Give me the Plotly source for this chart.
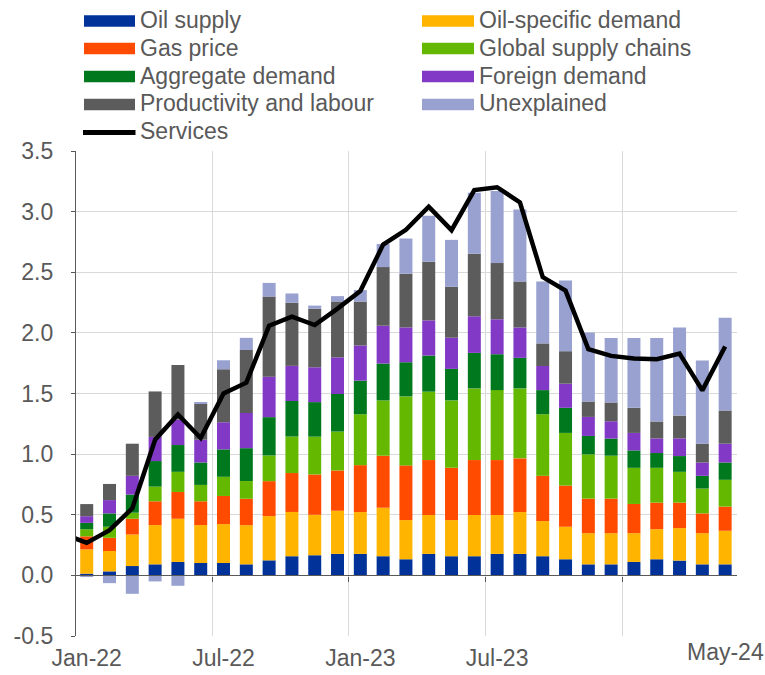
import plotly.graph_objects as go

months = ["Jan-22", "Feb-22", "Mar-22", "Apr-22", "May-22", "Jun-22",
          "Jul-22", "Aug-22", "Sep-22", "Oct-22", "Nov-22", "Dec-22",
          "Jan-23", "Feb-23", "Mar-23", "Apr-23", "May-23", "Jun-23",
          "Jul-23", "Aug-23", "Sep-23", "Oct-23", "Nov-23", "Dec-23",
          "Jan-24", "Feb-24", "Mar-24", "Apr-24", "May-24"]

oil_supply = [0.014, 0.033, 0.077, 0.091, 0.111, 0.102, 0.102, 0.091, 0.124, 0.158,
              0.166, 0.177, 0.177, 0.158, 0.133, 0.177, 0.158, 0.158, 0.177, 0.177,
              0.158, 0.133, 0.091, 0.091, 0.111, 0.133, 0.122, 0.091, 0.091]
oil_specific_demand = [0.200, 0.168, 0.260, 0.324, 0.356, 0.313, 0.321, 0.323, 0.365, 0.365,
                       0.334, 0.356, 0.345, 0.400, 0.323, 0.321, 0.298, 0.340, 0.321, 0.345,
                       0.290, 0.268, 0.257, 0.257, 0.237, 0.248, 0.268, 0.257, 0.277]
gas_price = [0.108, 0.109, 0.130, 0.196, 0.221, 0.196, 0.232, 0.218, 0.288, 0.321,
             0.332, 0.332, 0.387, 0.429, 0.451, 0.453, 0.431, 0.453, 0.453, 0.443,
             0.373, 0.340, 0.285, 0.285, 0.241, 0.219, 0.210, 0.163, 0.199]
global_supply_chains = [0.058, 0.091, 0.050, 0.121, 0.166, 0.135, 0.158, 0.146, 0.212, 0.301,
                        0.312, 0.321, 0.420, 0.456, 0.569, 0.564, 0.556, 0.591, 0.577, 0.577,
                        0.508, 0.434, 0.365, 0.354, 0.298, 0.287, 0.254, 0.205, 0.221]
aggregate_demand = [0.053, 0.110, 0.149, 0.211, 0.221, 0.185, 0.226, 0.271, 0.316, 0.293,
                    0.285, 0.310, 0.277, 0.304, 0.282, 0.298, 0.260, 0.293, 0.296, 0.252,
                    0.199, 0.207, 0.152, 0.141, 0.144, 0.122, 0.130, 0.105, 0.143]
foreign_demand = [0.055, 0.110, 0.155, 0.199, 0.210, 0.188, 0.224, 0.290, 0.334, 0.290,
                  0.287, 0.302, 0.290, 0.312, 0.287, 0.290, 0.257, 0.302, 0.288, 0.251,
                  0.199, 0.199, 0.157, 0.143, 0.144, 0.121, 0.146, 0.110, 0.155]
productivity_labour = [0.100, 0.133, 0.265, 0.375, 0.450, 0.296, 0.437, 0.520, 0.660, 0.520,
                       0.484, 0.461, 0.362, 0.484, 0.443, 0.484, 0.420, 0.516, 0.464, 0.379,
                       0.186, 0.268, 0.127, 0.155, 0.207, 0.139, 0.188, 0.155, 0.274]
unexplained = [-0.014, -0.064, -0.152, -0.050, -0.086, 0.008, 0.074, 0.100, 0.113, 0.077,
               0.025, 0.044, 0.095, 0.190, 0.290, 0.379, 0.387, 0.503, 0.594, 0.594,
               0.511, 0.583, 0.570, 0.531, 0.575, 0.688, 0.727, 0.686, 0.765]

services_prev = 0.34   # Dec-21, partially visible at the left edge
services = [0.268, 0.373, 0.553, 1.119, 1.327, 1.133, 1.500, 1.589, 2.059, 2.134,
            2.065, 2.200, 2.345, 2.728, 2.850, 3.040, 2.847, 3.178, 3.201, 3.076,
            2.460, 2.349, 1.866, 1.810, 1.788, 1.783, 1.830, 1.526, 1.888]

tick_labels = ["Jan-22", "Jul-22", "Jan-23", "Jul-23"]
end_label = "May-24"
y_ticks = [-0.5, 0.0, 0.5, 1.0, 1.5, 2.0, 2.5, 3.0, 3.5]

series = [
    ("Oil supply", oil_supply, "#003299"),
    ("Oil-specific demand", oil_specific_demand, "#FFB400"),
    ("Gas price", gas_price, "#FF4B00"),
    ("Global supply chains", global_supply_chains, "#65B800"),
    ("Aggregate demand", aggregate_demand, "#00781E"),
    ("Foreign demand", foreign_demand, "#8139C6"),
    ("Productivity and labour", productivity_labour, "#5C5C5C"),
    ("Unexplained", unexplained, "#98A1D0"),
]

FONT = "Liberation Sans, Arial, sans-serif"
TXT = "#595959"
FS = 23
W, H = 765, 675
ML, MR, MT, MB = 76, 28, 151, 39
PW, PH = W - ML - MR, H - MT - MB

x = list(range(len(months)))
xr = [-0.47, len(months) - 0.48]
yr = [y_ticks[0], y_ticks[-1]]

fig = go.Figure()
for name, vals, col in series:
    fig.add_trace(go.Bar(x=x, y=vals, name=name, customdata=months,
                         marker=dict(color=col, line=dict(width=0)),
                         showlegend=False,
                         hovertemplate="%{customdata}: %{y:.2f}<extra>" + name + "</extra>"))

fig.add_trace(go.Scatter(x=[-1] + x, y=[services_prev] + services, name="Services",
                         mode="lines", line=dict(color="black", width=4.5),
                         xaxis="x2", yaxis="y", showlegend=False))


def px_x(p):
    return (p - ML) / PW


def px_y(p):
    return (H - MB - p) / PH


shapes = []
annotations = []
rows = [21, 48.5, 76.5, 104.5, 132.5]
cols = [(84, 135, 138), (422, 474, 477)]
for i, (name, vals, col) in enumerate(series):
    r, c = divmod(i, 2)
    sx0, sx1, tx = cols[c]
    cy = rows[r]
    shapes.append(dict(type="rect", xref="paper", yref="paper",
                       x0=px_x(sx0), x1=px_x(sx1), y0=px_y(cy + 5.7), y1=px_y(cy - 5.7),
                       fillcolor=col, line=dict(width=0), layer="above"))
    annotations.append(dict(xref="paper", yref="paper", x=px_x(tx), y=px_y(cy - 1),
                            xanchor="left", yanchor="middle", text=name, showarrow=False,
                            font=dict(family=FONT, size=FS, color=TXT)))
# Services legend entry
cy = rows[4]
shapes.append(dict(type="line", xref="paper", yref="paper",
                   x0=px_x(83), x1=px_x(135.5), y0=px_y(cy), y1=px_y(cy),
                   line=dict(color="black", width=5), layer="above"))
annotations.append(dict(xref="paper", yref="paper", x=px_x(138), y=px_y(cy - 1),
                        xanchor="left", yanchor="middle", text="Services", showarrow=False,
                        font=dict(family=FONT, size=FS, color=TXT)))
# last tick label
annotations.append(dict(xref="x", yref="paper", x=months.index(end_label), y=px_y(652),
                        xanchor="center", yanchor="middle", text=end_label, showarrow=False,
                        font=dict(family=FONT, size=FS, color=TXT)))

fig.update_layout(
    template="none",
    width=W, height=H,
    margin=dict(l=ML, r=MR, t=MT, b=MB, pad=0, autoexpand=False),
    paper_bgcolor="white", plot_bgcolor="white",
    font=dict(family=FONT, size=FS, color=TXT),
    barmode="relative", bargap=0.43,
    showlegend=False,
    shapes=shapes, annotations=annotations,
    xaxis=dict(range=xr, tickmode="array", automargin=False,
               tickvals=[months.index(t) for t in tick_labels], ticktext=tick_labels,
               ticks="", showgrid=False, zeroline=False, showline=False,
               ticklabelstandoff=6,
               tickfont=dict(family=FONT, size=FS, color=TXT),
               minor=dict(tickmode="array", tickvals=[5.5, 11.5, 17.5, 23.5, 28.5],
                          showgrid=True, gridcolor="#D9D9D9", gridwidth=1, ticks="")),
    xaxis2=dict(range=xr, overlaying="x", anchor="free", position=0.125, side="bottom",
                automargin=False,
                showline=True, linecolor=TXT, linewidth=1.3,
                ticks="outside", ticklen=5, tickwidth=1.3, tickcolor=TXT,
                tickmode="array", tickvals=[5.5, 11.5, 17.5, 23.5],
                showticklabels=False, showgrid=False, zeroline=False),
    yaxis=dict(range=yr, tickmode="array", tickvals=y_ticks,
               ticktext=[f"{v:.1f}" for v in y_ticks],
               automargin=False,
               showgrid=True, gridcolor="#D9D9D9", gridwidth=1,
               zeroline=False, showline=True, linecolor=TXT, linewidth=1.3,
               ticks="outside", ticklen=4, tickwidth=1.3, tickcolor=TXT,
               ticklabelstandoff=13,
               tickfont=dict(family=FONT, size=FS, color=TXT)),
)

fig.write_html("out.html", config={"displayModeBar": False},
               post_script="document.body.style.margin='0';")
